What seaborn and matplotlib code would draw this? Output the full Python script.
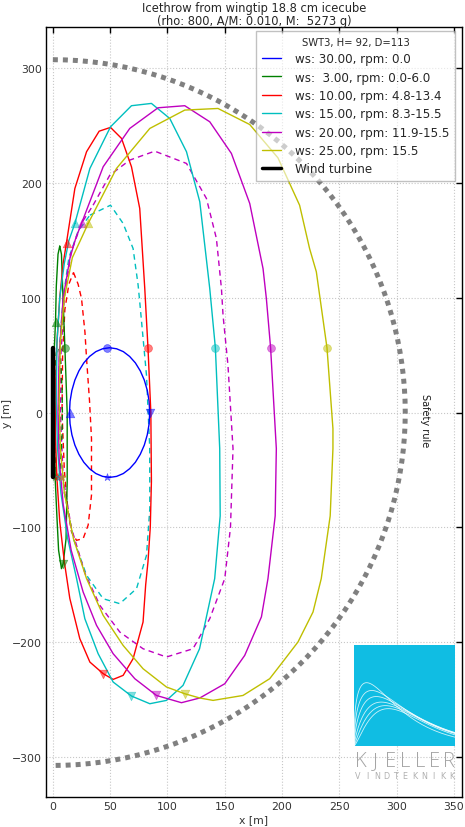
import numpy as np
import pandas as pd
import matplotlib
matplotlib.use("Agg")
import matplotlib.pyplot as plt
from matplotlib.lines import Line2D
import seaborn as sns

# Turbine and ice piece
turbine_name = "SWT3"
hub_height = 92
rotor_diameter = 113
title_text = "Icethrow from wingtip 18.8 cm icecube\n(rho: 800, A/M: 0.010, M:  5273 g)"

# Landing points of ice released from the blade tip, one loop per operating case
ws30_x = [84.5, 84.0, 82.4, 79.8, 76.3, 72.0, 67.0, 61.5, 55.6, 49.5, 43.4, 37.5, 32.0, 27.0, 22.7,
          19.2, 16.6, 15.0, 14.5, 15.0, 16.6, 19.2, 22.7, 27.0, 32.0, 37.5, 43.4, 49.5, 55.6, 61.5,
          67.0, 72.0, 76.3, 79.8, 82.4, 84.0, 84.5]
ws30_y = [0.0, 9.8, 19.3, 28.3, 36.3, 43.3, 48.9, 53.1, 55.6, 56.5, 55.6, 53.1, 48.9, 43.3, 36.3,
          28.3, 19.3, 9.8, 0.0, -9.8, -19.3, -28.3, -36.3, -43.3, -48.9, -53.1, -55.6, -56.5, -55.6, -53.1,
          -48.9, -43.3, -36.3, -28.3, -19.3, -9.8, 0.0]

ws3_max_x = [6.0, 7.5, 8.5, 10.5, 12.5, 12.5, 11.5, 9.0, 7.5, 5.0, 3.5, 2.0, 1.0, 1.0, 2.3, 3.0, 4.5, 6.0]
ws3_max_y = [145, 138, 110, 56.5, 0, -60, -110, -131.6, -136, -120, -90, -57, 0, 50, 79, 110, 138, 145]
ws3_min_x = [8.3, 8.0, 7.2, 6.3, 5.2, 4.0, 3.0, 2.0, 1.5, 1.3, 1.5, 2.0, 3.0, 4.0, 5.2, 6.3, 7.2, 8.0, 8.3]
ws3_min_y = [0, 20, 38, 50, 56, 56, 52, 40, 20, 0, -20, -40, -52, -56, -56, -50, -38, -20, 0]

ws10_max_x = [11.9, 19.2, 29.4, 40.4, 50.3, 59.9, 68.6, 75.8, 80.2, 83.0, 85.5, 86.0, 85.0, 83.0,
              81.0, 78.7, 70.0, 61.3, 52.6, 43.9, 32.3, 23.5, 14.8, 10.0, 6.0, 3.5, 2.2, 2.2,
              3.5, 6.0, 9.0, 11.9]
ws10_max_y = [148.2, 195.3, 227.3, 245.2, 248.5, 238.9, 214.2, 177.9, 108.1, 56.5, 0, -60, -100, -130,
              -150, -182.5, -214.5, -229, -232.5, -227.5, -217.4, -197, -162, -130, -95, -56.5, -20, 20,
              60, 100, 130, 148.2]
ws10_min_x = [18.0, 22.0, 25.0, 28.0, 29.4, 32.0, 33.7, 33.7, 30.8, 26.4, 20.6, 16.3, 13.0, 10.0,
              8.0, 8.5, 10.5, 14.0, 18.0]
ws10_min_y = [122, 112, 99.4, 70, 47, 10, -22.7, -72, -98, -109.9, -111.3, -104, -85, -50,
              0, 50, 90, 112, 122]

ws15_max_x = [19.2, 32.3, 50.3, 68.6, 86.0, 102.0, 116.6, 128.2, 136.9, 141.8, 145.6, 146.0, 141.2,
              128.0, 113.6, 99.1, 84.6, 68.6, 52.6, 39.5, 27.9, 20.7, 13.0, 7.0, 4.0, 3.0, 3.5,
              6.0, 10.0, 14.0, 19.2]
ws15_max_y = [164.8, 212.7, 249, 267.4, 269.4, 256.3, 227.3, 183.7, 108.1, 56.5, -31.4, -90, -144.7,
              -205.8, -237.7, -250.8, -253.7, -247, -234.8, -210.1, -179.6, -144.7, -110, -70, -30, 10, 60,
              100, 130, 150, 164.8]
ws15_min_x = [32.3, 50.3, 61.3, 70.0, 74.4, 75.8, 81.7, 84.5, 84.6, 81.7, 73.0, 58.4, 43.9, 29.4,
              18.0, 10.0, 6.0, 5.0, 6.0, 9.0, 14.0, 22.0, 32.3]
ws15_min_y = [172, 180.7, 164.8, 143, 111, 96.5, 32.5, -30, -83.7, -124.4, -153.4, -166.5, -162.2, -141.8,
              -110, -70, -30, 10, 60, 100, 135, 158, 172]

ws20_max_x = [25.0, 43.9, 67.1, 91.8, 115.1, 136.9, 155.8, 171.8, 183.4, 186.3, 190.0, 195.0, 194.0,
              187.7, 182.0, 167.4, 150.0, 128.2, 112.2, 90.4, 71.5, 52.6, 38.1, 26.4, 16.0, 9.0, 5.5,
              4.5, 5.5, 9.0, 15.0, 20.0, 25.0]
ws20_max_y = [164.8, 214.2, 247.6, 265.6, 267.4, 253.4, 225.8, 182.2, 125.5, 99.4, 56.5, -31.4, -90,
              -144.7, -178, -211.6, -236.3, -248.7, -252.8, -246.5, -231.9, -210.1, -185.4, -156.3, -120, -80, -40,
              0, 50, 100, 135, 152, 164.8]
ws20_min_x = [35.1, 49.7, 67.1, 88.9, 116.6, 134.0, 142.7, 147.1, 148.5, 152.8, 157.2, 155.0, 150.0,
              136.9, 122.3, 99.1, 78.7, 58.4, 41.0, 28.0, 16.0, 9.0, 6.5, 7.0, 10.0, 16.0, 25.0, 35.1]
ws20_min_y = [180.7, 206.9, 220, 227.8, 217.1, 186.6, 151.7, 108.1, 84.8, 41.2, -31.4, -100, -144.7,
              -179.6, -205.8, -213, -205.8, -191.2, -168, -140, -100, -57, 0, 50, 100, 140, 165, 180.7]

ws25_x = [30.8, 55.5, 84.6, 115.1, 144.1, 171.8, 196.4, 215.3, 224.0, 229.9, 239.2, 244.4, 244.4,
          242.0, 234.2, 227.0, 213.9, 199.4, 189.2, 165.9, 139.8, 128.2, 115.1, 99.1, 78.7, 61.3,
          43.9, 29.4, 18.0, 10.0, 6.5, 5.5, 6.5, 10.0, 17.0, 24.0, 30.8]
ws25_y = [164.8, 212.7, 247.6, 263.6, 265, 251, 222, 180.7, 143, 122.7, 56.5, -14, -31.4,
          -90, -144.7, -173.8, -199.9, -218.8, -231.9, -246.5, -250.8, -248.7, -245, -239.1, -223.2, -202.9,
          -176.7, -144.7, -110, -70, -30, 10, 60, 100, 135, 150, 164.8]

# Release-position markers on each loop: (x, y) pairs
circle_pts = {"b": (47.5, 56.5), "g": (10.5, 56.5), "r": (83.0, 56.5),
              "c": (141.8, 56.5), "m": (190.0, 56.5), "y": (239.2, 56.5)}
tri_up_pts = {"b": (15.0, 0.0), "g": (2.3, 79.0), "r": (11.9, 148.2),
              "c": (19.2, 164.8), "m": (25.0, 164.8), "y": (30.8, 164.8)}
tri_down_pts = {"b": (84.5, 0.0), "g": (9.0, -131.6), "r": (43.9, -227.5),
                "c": (68.6, -247.0), "m": (90.4, -246.5), "y": (115.1, -245.0)}
star_pts = {"b": (47.5, -56.5), "g": (2.0, -56.5), "r": (3.5, -56.5),
            "c": (5.0, -56.5), "m": (7.0, -56.5), "y": (8.0, -56.5)}

legend_labels = ["ws: 30.00, rpm: 0.0", "ws:  3.00, rpm: 0.0-6.0", "ws: 10.00, rpm: 4.8-13.4",
                 "ws: 15.00, rpm: 8.3-15.5", "ws: 20.00, rpm: 11.9-15.5", "ws: 25.00, rpm: 15.5"]

COLORS = {"b": (0, 0, 1), "g": (0, 0.5, 0), "r": (1, 0, 0),
          "c": (0, 0.75, 0.75), "m": (0.75, 0, 0.75), "y": (0.75, 0.75, 0)}

sns.set_style("white")
plt.rcParams["font.family"] = ["DejaVu Sans"]

fig = plt.figure(figsize=(4.65, 8.28), dpi=100)
ax = fig.add_axes([0.0989, 0.0362, 0.8946, 0.930])


def loop(xs, ys, color, ls="-"):
    df = pd.DataFrame({"x": xs, "y": ys})
    sns.lineplot(data=df, x="x", y="y", sort=False, estimator=None, color=color,
                 linestyle=ls, lw=1.0, ax=ax)


# Safety distance 1.5*(H+D) around the turbine
safety_r = 1.5 * (hub_height + rotor_diameter)
ang = np.radians(np.linspace(90, -90, 181))
sns.lineplot(x=safety_r * np.cos(ang), y=safety_r * np.sin(ang), sort=False, estimator=None,
             color="0.5", lw=3.6, linestyle=(0, (1, 1)), ax=ax,
             dash_capstyle="butt")
ax.text(325, -6, "Safety rule", rotation=-90, ha="center", va="center", fontsize=7, color="0.1")

loop(ws10_min_x, ws10_min_y, COLORS["r"], (0, (4, 3)))
loop(ws15_min_x, ws15_min_y, COLORS["c"], (0, (4, 3)))
loop(ws20_min_x, ws20_min_y, COLORS["m"], (0, (4, 3)))
loop(ws3_min_x, ws3_min_y, COLORS["g"], (0, (4, 3)))

loop(ws30_x, ws30_y, COLORS["b"])
loop(ws3_max_x, ws3_max_y, COLORS["g"])
loop(ws10_max_x, ws10_max_y, COLORS["r"])
loop(ws15_max_x, ws15_max_y, COLORS["c"])
loop(ws20_max_x, ws20_max_y, COLORS["m"])
loop(ws25_x, ws25_y, COLORS["y"])

for pts, mk, sz in [(circle_pts, "o", 32), (tri_up_pts, "^", 38),
                    (tri_down_pts, "v", 38), (star_pts, "*", 32)]:
    for key, (px, py) in pts.items():
        sns.scatterplot(x=[px], y=[py], marker=mk, s=sz, color=COLORS[key], alpha=0.5,
                        edgecolor=COLORS[key], linewidth=0.5, ax=ax, zorder=5)

# Rotor seen from above
half_d = rotor_diameter / 2
sns.lineplot(x=[0, 0], y=[-half_d, half_d], color="k", lw=3.2, estimator=None, sort=False, ax=ax,
             zorder=6)

ax.set_xlim(-6, 357)
ax.set_ylim(-335, 336)
ax.set_xticks(np.arange(0, 351, 50))
ax.set_yticks(np.arange(-300, 301, 100))
ax.grid(True, color="0.78", linestyle=":", lw=0.8)
for s in ax.spines.values():
    s.set_color("k")
    s.set_linewidth(1.0)
ax.tick_params(direction="in", top=True, right=True, length=4, width=1, labelsize=7.8,
               colors="k", labelcolor="0.2", pad=3)
ax.set_xlabel("x [m]", fontsize=7.8, color="0.2", labelpad=2)
ax.set_ylabel("y [m]", fontsize=7.8, color="0.2", labelpad=0)
ax.set_title(title_text, fontsize=8.3, color="0.15", pad=2, linespacing=1.0)

handles = [Line2D([], [], color=COLORS[k], lw=1.0) for k in "bgrcmy"]
handles.append(Line2D([], [], color="k", lw=2.5))
leg = ax.legend(handles, legend_labels + ["Wind turbine"], loc="upper right",
                bbox_to_anchor=(0.983, 0.995), borderaxespad=0.0,
                title=f"{turbine_name}, H= {hub_height}, D={rotor_diameter}",
                fontsize=8.6, title_fontsize=7.2, frameon=True, fancybox=False,
                framealpha=0.6, edgecolor="0.6", handlelength=1.6, handletextpad=1.1,
                borderpad=0.5, labelspacing=0.45)
leg.get_frame().set_linewidth(1.0)

# Company logo
lax = fig.add_axes([0.7613, 0.0978, 0.2172, 0.122])
lax.set_facecolor("#10bde3")
lax.set_xlim(0, 1)
lax.set_ylim(0, 1)
lax.set_xticks([])
lax.set_yticks([])
for s in lax.spines.values():
    s.set_visible(False)
xx = np.linspace(0.0, 1, 300)
for h, xp, a in [(0.627, 0.125, 0.4), (0.55, 0.175, 0.5), (0.49, 0.22, 0.65),
                 (0.435, 0.27, 0.85), (0.40, 0.31, 1.1), (0.37, 0.34, 1.4)]:
    yy = h * (xx / xp) ** a * np.exp(a * (1 - xx / xp))
    lax.plot(xx, yy, color="white", lw=0.6, alpha=0.8)

for i, ch in enumerate("KJELLER"):
    fig.text((361 + i * 14.7) / 465, 1 - 762 / 828, ch, fontsize=14.5, color="#a5a5a5",
             ha="center", va="center", family=["Open Sans", "DejaVu Sans"], fontweight="light")
for i, ch in enumerate("VINDTEKNIKK"):
    fig.text((358 + i * 9.4) / 465, 1 - 777 / 828, ch, fontsize=5.8, color="#b0b0b0",
             ha="center", va="center")

fig.savefig("out.png", dpi=100)
